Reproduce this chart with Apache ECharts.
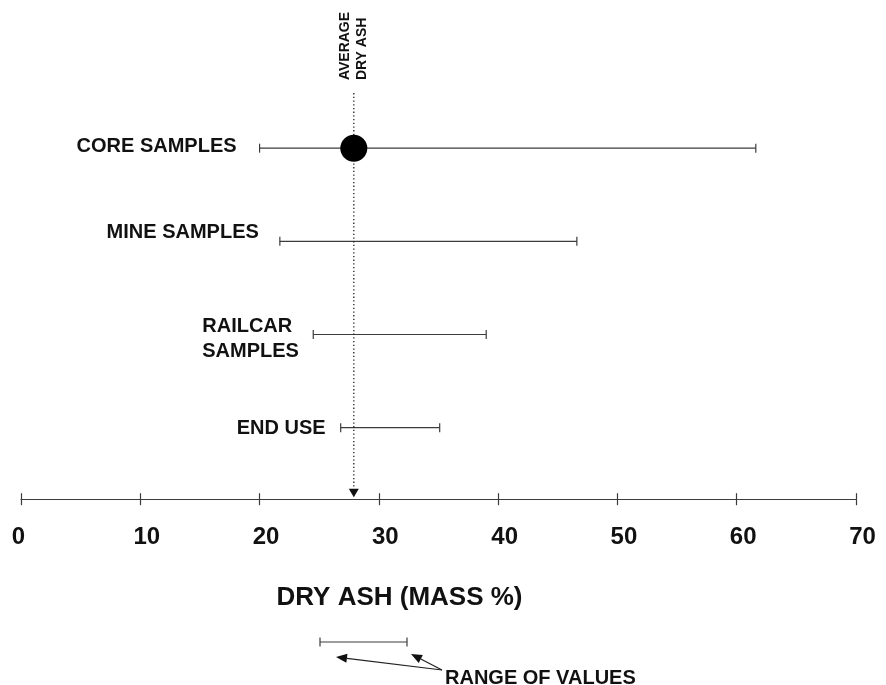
<!DOCTYPE html>
<html><head><meta charset="utf-8">
<script src="https://cdn.jsdelivr.net/npm/echarts@6/dist/echarts.min.js"></script>
<style>html,body{margin:0;padding:0;background:#fff}#c{width:886px;height:685px}</style>
</head><body><div id="c"></div>
<script>
// ---- data ----
const categories = ['CORE SAMPLES', 'MINE SAMPLES', 'RAILCAR\nSAMPLES', 'END USE'];
const rangeLow = [20.0, 21.7, 24.5, 26.8];
const rangeHigh = [61.6, 46.6, 39.0, 35.1];
const averageDryAsh = 27.9;
const averageMarkRow = 'CORE SAMPLES';
const averageLabel = ['AVERAGE', 'DRY ASH'];
const xTicks = [0, 10, 20, 30, 40, 50, 60, 70];
const axisTitle = 'DRY ASH (MASS %)';
const legendText = 'RANGE OF VALUES';

// ---- styles ----
const FONT = '"Liberation Sans", Arial, Helvetica, sans-serif';
const INK = '#3c3c3c';
const TXT = '#111';
const AXIS_OFFSET = 25;
const labelGap = [23, 21, 14, 15];
const labelDy = [-2, -9, 5, 1];

const chart = echarts.init(document.getElementById('c'), null, {renderer: 'canvas'});

function renderRange(params, api) {
  const i = params.dataIndex;
  const lo = api.coord([api.value(0), api.value(2)]);
  const hi = api.coord([api.value(1), api.value(2)]);
  const y = lo[1];
  const cap = 4.5;
  const lines = String(categories[i]).split('\n');
  const tokenStyle = {font: 'bold 20px ' + FONT, fill: TXT, lineHeight: 25, align: 'left'};
  if (lines.length > 1) tokenStyle.width = 97;
  const text = lines.map(s => '{a|' + s + '}').join('\n');
  const st = {stroke: INK, lineWidth: 1.2};
  return {type: 'group', children: [
    {type: 'line', shape: {x1: lo[0], y1: y, x2: hi[0], y2: y}, style: st},
    {type: 'line', shape: {x1: lo[0], y1: y - cap, x2: lo[0], y2: y + cap}, style: st},
    {type: 'line', shape: {x1: hi[0], y1: y - cap, x2: hi[0], y2: y + cap}, style: st},
    {type: 'text', x: lo[0] - labelGap[i], y: y + labelDy[i],
      style: {text: text, align: 'right', verticalAlign: 'middle', rich: {a: tokenStyle}}}
  ]};
}

function renderAverage(params, api) {
  const x = api.coord([api.value(0), 0])[0];
  const cs = params.coordSys;
  const top = cs.y - 8.5;
  const axisY = cs.y + cs.height + AXIS_OFFSET;
  const tip = axisY - 2;
  const headH = 8.5, headW = 5;
  return {type: 'group', children: [
    {type: 'line', shape: {x1: x, y1: top, x2: x, y2: tip - headH},
      style: {stroke: '#222', lineWidth: 1.3, lineDash: [1.3, 2.4]}},
    {type: 'polygon', shape: {points: [[x - headW, tip - headH], [x + headW, tip - headH], [x, tip]]},
      style: {fill: '#111'}},
    {type: 'text', x: x, y: top - 13, rotation: Math.PI / 2,
      style: {text: averageLabel.join('\n'), font: 'bold 14px ' + FONT, fill: TXT,
        align: 'left', verticalAlign: 'middle', lineHeight: 16.5}}
  ]};
}

function arrow(x1, y1, x2, y2) {
  const dx = x2 - x1, dy = y2 - y1, L = Math.hypot(dx, dy);
  const ux = dx / L, uy = dy / L, px = -uy, py = ux;
  const hl = 11, hw = 4.5;
  const bx = x2 - ux * hl, by = y2 - uy * hl;
  return [
    {type: 'line', shape: {x1: x1, y1: y1, x2: bx, y2: by}, style: {stroke: '#222', lineWidth: 1.2}},
    {type: 'polygon', shape: {points: [[x2, y2], [bx + px * hw, by + py * hw], [bx - px * hw, by - py * hw]]},
      style: {fill: '#111'}}
  ];
}

const legendY = 642;
const graphics = [
  {type: 'line', shape: {x1: 320, y1: legendY, x2: 407, y2: legendY}, style: {stroke: INK, lineWidth: 1.2}},
  {type: 'line', shape: {x1: 320, y1: legendY - 4.5, x2: 320, y2: legendY + 4.5}, style: {stroke: INK, lineWidth: 1.2}},
  {type: 'line', shape: {x1: 407, y1: legendY - 4.5, x2: 407, y2: legendY + 4.5}, style: {stroke: INK, lineWidth: 1.2}},
  ...arrow(442, 670, 336, 657),
  ...arrow(442, 670, 411, 654),
  {type: 'text', x: 445, y: 678, style: {text: legendText, font: 'bold 20px ' + FONT, fill: TXT, verticalAlign: 'middle'}}
];

const rowIdx = categories.indexOf(averageMarkRow);

const option = {
  backgroundColor: '#fff',
  animation: false,
  grid: {left: 21, right: 30, top: 101.6, bottom: 210.8},
  xAxis: [{
    type: 'value', min: xTicks[0], max: xTicks[xTicks.length - 1], interval: 10,
    position: 'bottom', offset: AXIS_OFFSET,
    splitLine: {show: false},
    axisLine: {show: true, lineStyle: {color: INK, width: 1.2}},
    axisTick: {show: true, inside: false, length: 6, lineStyle: {color: INK, width: 1.2}},
    axisLabel: {
      margin: 26,
      formatter: v => (v === 0 ? '{z|' + v + '}' : '{n|' + v + '}'),
      rich: {
        z: {fontSize: 24, fontWeight: 'bold', fontFamily: FONT, color: TXT, lineHeight: 24, padding: [0, 5, 0, 0]},
        n: {fontSize: 24, fontWeight: 'bold', fontFamily: FONT, color: TXT, lineHeight: 24, padding: [0, 0, 0, 13]}
      }
    },
    name: axisTitle, nameLocation: 'middle', nameGap: 86,
    nameTextStyle: {fontSize: 26, fontWeight: 'bold', fontFamily: FONT, color: TXT, padding: [0, 78, 0, 0]}
  }, {
    type: 'value', min: xTicks[0], max: xTicks[xTicks.length - 1], interval: 10,
    position: 'bottom', offset: AXIS_OFFSET,
    splitLine: {show: false},
    axisLine: {show: false},
    axisTick: {show: true, inside: true, length: 6, lineStyle: {color: INK, width: 1.2}},
    axisLabel: {show: false}
  }],
  yAxis: {type: 'category', data: categories, inverse: true, show: false},
  series: [
    {type: 'custom', renderItem: renderRange, xAxisIndex: 0,
      encode: {x: [0, 1], y: 2},
      data: categories.map((c, i) => [rangeLow[i], rangeHigh[i], i])},
    {type: 'custom', renderItem: renderAverage, xAxisIndex: 0, z: 3,
      encode: {x: 0}, data: [[averageDryAsh]]},
    {type: 'scatter', xAxisIndex: 0, symbol: 'circle', symbolSize: 27, z: 5,
      itemStyle: {color: '#000', opacity: 1}, data: [[averageDryAsh, rowIdx]]}
  ],
  graphic: graphics
};
chart.setOption(option);
</script></body></html>
